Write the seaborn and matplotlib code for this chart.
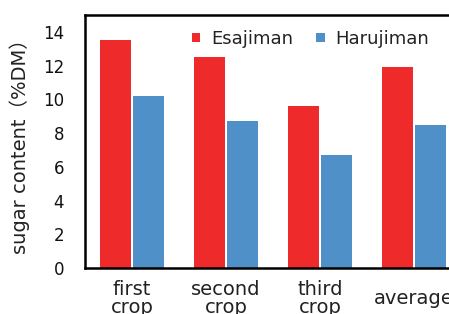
import matplotlib
matplotlib.use("Agg")
import matplotlib.pyplot as plt
import seaborn as sns
import pandas as pd
from matplotlib.patches import Patch

categories = ["first\ncrop", "second\ncrop", "third\ncrop", "average"]
esajiman = [13.5, 12.5, 9.6, 11.9]
harujiman = [10.2, 8.7, 6.7, 8.5]
series_names = ["Esajiman", "Harujiman"]
colors = ["#EE2A2A", "#4F90C8"]
yticks = [0, 2, 4, 6, 8, 10, 12, 14]

df = pd.DataFrame({
    "category": categories * 2,
    "value": esajiman + harujiman,
    "series": [series_names[0]] * 4 + [series_names[1]] * 4,
})

sns.set_style("white")
plt.rcParams["font.family"] = ["DejaVu Sans", "Noto Sans CJK JP"]

fig = plt.figure(figsize=(4.49, 3.14), dpi=100)
W, H = 449, 314
left, right, top, bottom = 85, 461, 15, 268
ax = fig.add_axes([left / W, 1 - bottom / H, (right - left) / W, (bottom - top) / H])

sns.barplot(data=df, x="category", y="value", hue="series", order=categories,
            hue_order=series_names, palette=colors, saturation=1, width=0.70, gap=0.06,
            linewidth=0, ax=ax, legend=False)

ax.set_xlim(-0.5, 3.5)
ax.set_ylim(0, 15)
ax.set_yticks(yticks)
ax.set_yticklabels([str(t) for t in yticks])
ax.set_xlabel("")
ax.set_ylabel("sugar content（%DM）", fontsize=14, color="#222222", labelpad=9)
ax.tick_params(axis="y", length=0, pad=15, labelsize=12, labelcolor="#111111")
ax.tick_params(axis="x", length=0, pad=22, labelsize=14, labelcolor="#222222")
for lbl in ax.get_xticklabels():
    lbl.set_verticalalignment("center")
    lbl.set_linespacing(0.95)

for s in ["left", "bottom", "top"]:
    ax.spines[s].set_visible(True)
    ax.spines[s].set_color("black")
    ax.spines[s].set_linewidth(1.8)
ax.spines["right"].set_visible(False)

handles = [Patch(facecolor=c, edgecolor="none") for c in colors]
fig.legend(handles, series_names, loc="center left", bbox_to_anchor=(192 / W, 1 - 39 / H),
           ncol=2, frameon=False, fontsize=13, handlelength=0.45, handleheight=0.45,
           handletextpad=0.6, columnspacing=1.3, labelcolor="#222222", borderaxespad=0,
           borderpad=0)

fig.savefig("out.png", dpi=100)
